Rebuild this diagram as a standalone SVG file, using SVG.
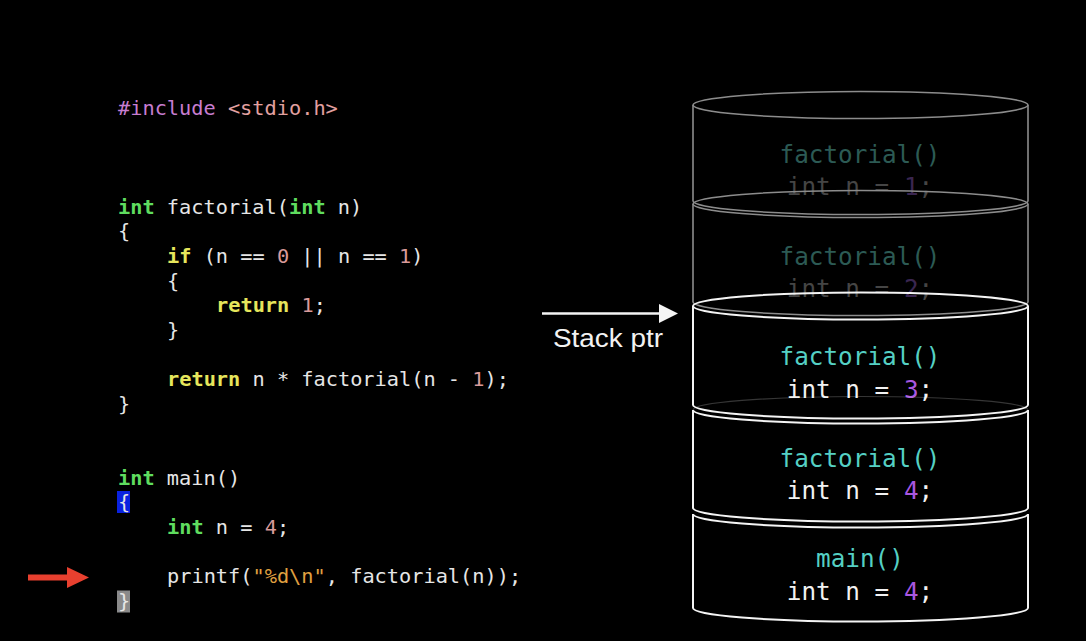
<svg xmlns="http://www.w3.org/2000/svg" width="1086" height="641" viewBox="0 0 1086 641">
<style>
.code{font-family:"DejaVu Sans Mono","Liberation Mono",monospace;font-size:20.3px;fill:#e6e6e6}
.kw{fill:#5fdc5f;font-weight:bold}
.ctl{fill:#e6e65c;font-weight:bold}
.num{fill:#d99a9a}
.str{fill:#e0a040}
.pre{fill:#c77dd0}
.inc{fill:#e3a0a0}
.st{font-family:"DejaVu Sans Mono","Liberation Mono",monospace;font-size:24.3px;text-anchor:middle}
.fn{fill:#55d0c4}
.wt{fill:#f2f2f2}
.dg{fill:#a957e0}
.fnd{fill:#2c5a54}
.wtd{fill:#454545}
.dgd{fill:#3a2650}
.faded{fill:none;stroke:#8c8c8c;stroke-width:1.6}
.bright{fill:none;stroke:#f4f4f4;stroke-width:2}
</style>
<rect x="0" y="0" width="1086" height="641" fill="#000"/>
<g id="code">
<rect x="117" y="491" width="13" height="22" fill="#0a22e0"/>
<rect x="117" y="590.5" width="13" height="22" fill="#8a8a8a"/>
<text class="code" x="118" y="115"><tspan class="pre">#include</tspan> <tspan class="inc">&lt;stdio.h&gt;</tspan></text>
<text class="code" x="118" y="213.6"><tspan class="kw">int</tspan> factorial(<tspan class="kw">int</tspan> n)</text>
<text class="code" x="118" y="238.25">{</text>
<text class="code" x="167" y="262.9"><tspan class="ctl">if</tspan> (n == <tspan class="num">0</tspan> || n == <tspan class="num">1</tspan>)</text>
<text class="code" x="167" y="287.55">{</text>
<text class="code" x="216" y="312.2"><tspan class="ctl">return</tspan> <tspan class="num">1</tspan>;</text>
<text class="code" x="167" y="336.85">}</text>
<text class="code" x="167" y="386.15"><tspan class="ctl">return</tspan> n * factorial(n - <tspan class="num">1</tspan>);</text>
<text class="code" x="118" y="410.8">}</text>
<text class="code" x="118" y="484.75"><tspan class="kw">int</tspan> main()</text>
<text class="code" x="118" y="509.4">{</text>
<text class="code" x="167" y="534.05"><tspan class="kw">int</tspan> n = <tspan class="num">4</tspan>;</text>
<text class="code" x="167" y="583.35">printf(<tspan class="str">"%d\n"</tspan>, factorial(n));</text>
<text class="code" x="118" y="608">}</text>
</g>
<g id="pc-arrow">
<polygon points="28,574.5 67,574.5 67,567 89,577.5 67,588 67,580.5 28,580.5" fill="#e8402f"/>
</g>
<g id="frame1">
<text class="st" x="860" y="163"><tspan class="fnd">factorial()</tspan></text>
<text class="st" x="860" y="195"><tspan class="wtd">int n = </tspan><tspan class="dgd">1</tspan><tspan class="wtd">;</tspan></text>
<ellipse class="faded" cx="860.5" cy="105" rx="167.5" ry="13.5" stroke-width="2.4"/>
<path class="faded" d="M693 105 L693 201 A167.5 13.5 0 0 0 1028 201 L1028 105"/>
</g>
<g id="frame2">
<text class="st" x="860" y="265"><tspan class="fnd">factorial()</tspan></text>
<text class="st" x="860" y="297"><tspan class="wtd">int n = </tspan><tspan class="dgd">2</tspan><tspan class="wtd">;</tspan></text>
<ellipse class="faded" cx="860.5" cy="204" rx="167.5" ry="13.5"/>
<path class="faded" d="M693 204 L693 302 A167.5 13.5 0 0 0 1028 302 L1028 204"/>
</g>
<g id="frame3">
<text class="st" x="860" y="365"><tspan class="fn">factorial()</tspan></text>
<text class="st" x="860" y="398"><tspan class="wt">int n = </tspan><tspan class="dg">3</tspan><tspan class="wt">;</tspan></text>
<ellipse class="bright" cx="860.5" cy="306" rx="167.5" ry="13.5"/>
<path class="bright" d="M693 306 L693 405 A167.5 13.5 0 0 0 1028 405 L1028 306"/>
</g>
<g id="frame4">
<text class="st" x="860" y="467"><tspan class="fn">factorial()</tspan></text>
<text class="st" x="860" y="499"><tspan class="wt">int n = </tspan><tspan class="dg">4</tspan><tspan class="wt">;</tspan></text>
<path d="M693 410 A167.5 13.5 0 0 1 1028 410" fill="none" stroke="#f4f4f4" stroke-width="1.2" opacity="0.22"/>
<path class="bright" d="M1028 410 L1028 508 A167.5 13.5 0 0 1 693 508 L693 410 A167.5 13.5 0 0 0 1028 410"/>
</g>
<g id="frame5">
<text class="st" x="860" y="567"><tspan class="fn">main()</tspan></text>
<text class="st" x="860" y="600"><tspan class="wt">int n = </tspan><tspan class="dg">4</tspan><tspan class="wt">;</tspan></text>
<path class="bright" d="M1028 514 L1028 608 A167.5 13.5 0 0 1 693 608 L693 514 A167.5 13.5 0 0 0 1028 514"/>
</g>
<g id="connectors">
<line x1="542" y1="313.5" x2="662" y2="313.5" stroke="#f4f4f4" stroke-width="2.5"/>
<polygon points="659,304 678,313.5 659,323" fill="#f4f4f4"/>
</g>
<g id="stack-ptr-label">
<text x="553" y="347" font-family="'Liberation Sans',Arial,sans-serif" font-size="26.5" textLength="110" lengthAdjust="spacingAndGlyphs" fill="#f2f2f2">Stack ptr</text>
</g>
</svg>
